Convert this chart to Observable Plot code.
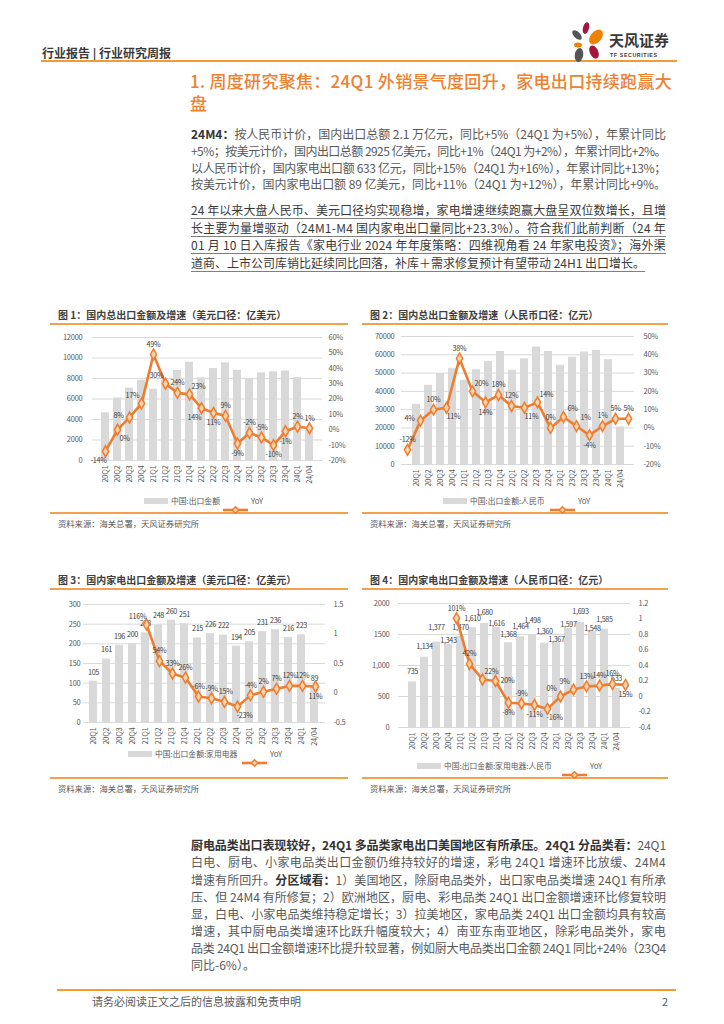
<!DOCTYPE html>
<html><head><meta charset="utf-8">
<script src="https://cdn.jsdelivr.net/npm/d3@7"></script>
<script src="https://cdn.jsdelivr.net/npm/@observablehq/plot@0.6"></script>
<style>
body{margin:0;background:#fff;width:724px;height:1024px;position:relative;overflow:hidden;font-family:"Noto Sans CJK SC","Noto Sans",sans-serif;color:#595959;}
.a{position:absolute;white-space:nowrap;}
.tl{position:absolute;white-space:nowrap;display:inline-block;font-size:12px;line-height:17px;}
.p1{color:#595959;}
.p2{color:#3a3a3a;text-decoration:underline;text-decoration-color:#7f7f7f;text-underline-offset:3px;text-decoration-thickness:1px;}
.p3{color:#595959;}
b{color:#333;font-weight:700;}
.rule{position:absolute;height:2px;background:#F5A04E;}
.ctitle{position:absolute;font-size:10px;font-weight:700;color:#404040;white-space:nowrap;}
.src{position:absolute;font-size:8.3px;color:#595959;white-space:nowrap;}
.leg{position:absolute;font-size:7.8px;color:#595959;white-space:nowrap;line-height:10px;}
.chart{position:absolute;}
.chart svg{position:absolute;left:0;top:0;}
</style></head>
<body>
<div id="root"></div>
<script>
// ---------- DATA ----------
const quarters = ["20Q1","20Q2","20Q3","20Q4","21Q1","21Q2","21Q3","21Q4","22Q1","22Q2","22Q3","22Q4","23Q1","23Q2","23Q3","23Q4","24Q1","24/04"];

// 图1 国内总出口（亿美元）
const totalUsd = [4650,6100,7060,7830,6950,7800,8780,9590,8060,8970,9530,8800,7900,8550,8650,8740,8090,2925];
const totalUsdYoy = [-14,0,8,17,49,30,24,23,14,11,9,-9,-2,-5,-10,-1,2,1];
const leftTicks1 = [0,2000,4000,6000,8000,10000,12000];
const leftLabels1 = ["0","2000","4000","6000","8000","10000","12000"];
const rightTicks1 = [-20,-10,0,10,20,30,40,50,60];
const rightLabels1 = ["-20%","-10%","0%","10%","20%","30%","40%","50%","60%"];

// 图2 国内总出口（亿元）
const totalCny = [32900,43300,49600,52400,46000,51800,56400,61800,51500,57800,64200,61800,54300,58700,61500,62400,57300,20500];
const totalCnyYoy = [-12,4,10,11,38,20,14,18,12,11,14,0,6,1,-4,1,5,5];
const leftTicks2 = [0,10000,20000,30000,40000,50000,60000,70000];
const leftLabels2 = ["0","10000","20000","30000","40000","50000","60000","70000"];
const rightTicks2 = [-20,-10,0,10,20,30,40,50];
const rightLabels2 = ["-20%","-10%","0%","10%","20%","30%","40%","50%"];

// 图3 国内家电出口（亿美元）
const appUsd = [105,161,196,200,228,248,260,251,215,226,222,194,205,231,236,216,223,89];
const appUsdYoy = [null,null,null,null,1.16,0.54,0.33,0.26,-0.06,-0.09,-0.15,-0.23,-0.04,0.02,0.07,0.12,0.12,0.11];
const leftTicks3 = [0,50,100,150,200,250,300];
const leftLabels3 = ["0","50","100","150","200","250","300"];
const rightTicks3 = [-0.5,0,0.5,1,1.5];
const rightLabels3 = ["-0.5","0","0.5","1","1.5"];

// 图4 国内家电出口（亿元）
const appCny = [735,1134,1377,1343,1470,1610,1680,1616,1368,1464,1498,1360,1367,1597,1693,1548,1585,633];
const appCnyYoy = [null,null,null,null,1.01,0.42,0.22,0.20,-0.08,-0.09,-0.11,-0.16,0.00,0.09,0.13,0.14,0.16,0.15];
const leftTicks4 = [0,500,1000,1500,2000];
const leftLabels4 = ["0","500","1,000","1500","2000"];
const rightTicks4 = [-0.4,-0.2,0,0.2,0.4,0.6,0.8,1,1.2];
const rightLabels4 = ["-0.4","-0.2","0","0.2","0.4","0.6","0.8","1","1.2"];

// label placement (styling, not data)
const pos1 = ["bl","br","l","al","a","al","a","ar","bl","b","a","b","a","a","b","b","a","a"];
const pos2 = ["a","l","a","br","a","ar","b","a","a","br","ar","a","ar","ar","b","a","a","a"];
const pos3 = [null,null,null,null,"al","a","a","a","a","a","a","br","a","a","a","a","a","b"];
const pos4 = [null,null,null,null,"a","a","ar","r","b","a","b","br","al","al","a","a","a","b"];
const barDy3 = quarters.map(()=>-9);
const barDy4 = [-10,-11,-14,-4,-9,-9,-11,-4,-8,-10,-14,-11,-3,-4,-11,-3,-10,-10];

// ---------- STYLE ----------
const ORANGE = "#ED7D31";
const FONT = "'Noto Sans CJK SC','Noto Sans',sans-serif";
const OFF = {a:[0,-10],b:[0,10],l:[-11,-2],r:[12,0],al:[-9,-8],ar:[9,-8],bl:[-7,9],br:[7,9]};

const root = document.getElementById("root");
function el(tag, cls, style, html){const e=document.createElement(tag); if(cls) e.className=cls; Object.assign(e.style, style||{}); if(html!=null) e.innerHTML=html; root.appendChild(e); return e;}

function makeChart(c){
  const rows = quarters.map((q,i)=>({q, v:c.bars[i], r:c.yoy[i], pos:c.pos[i], bdy:c.barDy ? c.barDy[i] : 0}));
  const yoyRows = rows.filter(d=>d.r!=null);
  const common = {width:c.w, height:c.h, marginLeft:c.mL, marginRight:c.mR, marginTop:c.mT, marginBottom:c.mB,
    style:{background:"transparent", overflow:"visible", fontFamily:FONT, fontSize:"7.5px", color:"#595959", letterSpacing:"-0.25px"}};
  const xs = {domain:quarters, padding:0.36};
  const lf = d => c.yLabels[c.yTicks.indexOf(d)];
  const rf = d => c.rLabels[c.rTicks.indexOf(d)];
  const am = [
    Plot.gridY(c.yTicks,{stroke:"#D9D9D9", strokeOpacity:1}),
    Plot.barY(rows,{x:"q", y:"v", fill:"#D9D9D9"}),
    Plot.axisY(c.yTicks,{tickSize:0, tickPadding:c.padL, tickFormat:lf, label:null}),
    Plot.axisX({tickRotate:-90, tickSize:0, tickPadding:5, label:null})
  ];
  if(c.barFmt){
    for(const dy of [...new Set(rows.map(d=>d.bdy))]){
      am.push(Plot.text(rows.filter(d=>d.bdy===dy),{x:"q", y:"v", text:d=>c.barFmt(d.v), dy, fill:"#404040", fontSize:7.2}));
    }
  }
  const A = Plot.plot({...common, x:{...xs, label:null}, y:{domain:c.yDomain, label:null}, marks:am});
  const bm = [
    Plot.axisY(c.rTicks,{anchor:"right", tickSize:0, tickPadding:c.padR, tickFormat:rf, label:null}),
    Plot.line(yoyRows,{x:"q", y:"r", stroke:ORANGE, strokeWidth:2.6}),
    Plot.dot(yoyRows,{x:"q", y:"r", symbol:"diamond", r:3.3, fill:"#FAD3A8", stroke:ORANGE, strokeWidth:1.5})
  ];
  for(const [k,[dx,dy]] of Object.entries(OFF)){
    bm.push(Plot.text(yoyRows.filter(d=>d.pos===k),{x:"q", y:"r", text:d=>c.yoyFmt(d.r), dx, dy, fill:"#404040", fontSize:7.2}));
  }
  const B = Plot.plot({...common, x:{...xs, axis:null}, y:{domain:c.rDomain, label:null}, marks:bm});
  const box = el("div","chart",{left:c.left+"px", top:c.top+"px", width:c.w+"px", height:c.h+"px"});
  box.appendChild(A); box.appendChild(B);
}

function legend(x, y, label, lx){
  el("div","",{position:"absolute", left:x+"px", top:(y-3)+"px", width:"24px", height:"6px", background:"#D9D9D9"});
  el("div","leg",{left:(x+27)+"px", top:(y-5)+"px"}, label);
  el("div","",{position:"absolute", left:lx+"px", top:(y-5)+"px", width:"25px", height:"10px"},
    '<svg width="25" height="10"><line x1="0" y1="5" x2="25" y2="5" stroke="'+ORANGE+'" stroke-width="2.6"/><path d="M12.5 1.7 L15.8 5 L12.5 8.3 L9.2 5 Z" fill="#FAD3A8" stroke="'+ORANGE+'" stroke-width="1.5"/></svg>');
  el("div","leg",{left:(lx+28)+"px", top:(y-5)+"px"}, "YoY");
}

// ---------- PAGE ----------
// header
el("div","a",{left:"42px", top:"44px", fontSize:"12px", fontWeight:"700", color:"#3a3a3a"}, "行业报告 | 行业研究周报");
el("div","rule",{left:"41px", top:"60px", width:"636px", background:"#F39A35"});
el("div","a",{left:"568px", top:"18px"},
 '<svg width="112" height="46" viewBox="0 0 112 46">'+
 '<ellipse cx="18" cy="10" rx="3" ry="6" fill="#A3163C" transform="rotate(15 18 10)"/>'+
 '<ellipse cx="9" cy="17" rx="3.2" ry="6" fill="#555" transform="rotate(-45 9 17)"/>'+
 '<ellipse cx="28" cy="19" rx="5.5" ry="8.5" fill="#EF8200" transform="rotate(40 28 19)"/>'+
 '<ellipse cx="10" cy="27" rx="4" ry="2.5" fill="#EF8200"/>'+
 '<ellipse cx="26" cy="34" rx="4.2" ry="7" fill="#A3163C" transform="rotate(-25 26 34)"/>'+
 '<ellipse cx="11" cy="37" rx="4.2" ry="7" fill="#555" transform="rotate(10 11 37)"/>'+
 '<text x="41" y="28" font-size="15" font-weight="700" fill="#3a3a3a" font-family="Noto Sans CJK SC">天风证券</text>'+
 '<text x="42" y="39" font-size="5.3" font-weight="700" fill="#3a3a3a" font-family="Liberation Sans" letter-spacing="0.6">TF SECURITIES</text>'+
 '</svg>');

// section title
const T1 = el("div","a",{left:"190px", top:"71px", fontSize:"17px", color:"#EE8130", fontWeight:"500", lineHeight:"20px"}, "1. 周度研究聚焦：24Q1 外销景气度回升，家电出口持续跑赢大");
T1.dataset.fit = "482";
el("div","a",{left:"190px", top:"93px", fontSize:"17px", color:"#EE8130", fontWeight:"500", lineHeight:"20px"}, "盘");

function para(cls, lines, centers, fitLast){
  lines.forEach((h,i)=>{
    const e = el("div","tl "+cls,{left:"191px", top:(centers[i]-8.5)+"px"}, h);
    if(i<lines.length-1 || fitLast) e.dataset.fit = "475";
  });
}
para("p1",[
 "<b>24M4：</b>按人民币计价，国内出口总额 2.1 万亿元，同比+5%（24Q1 为+5%），年累计同比",
 "+5%；按美元计价，国内出口总额 2925 亿美元，同比+1%（24Q1 为+2%），年累计同比+2%。",
 "以人民币计价，国内家电出口额 633 亿元，同比+15%（24Q1 为+16%），年累计同比+13%；",
 "按美元计价，国内家电出口额 89 亿美元，同比+11%（24Q1 为+12%），年累计同比+9%。"
],[133,150,167,183.5],true);
para("p2",[
 "24 年以来大盘人民币、美元口径均实现稳增，家电增速继续跑赢大盘呈双位数增长，且增",
 "长主要为量增驱动（24M1-M4 国内家电出口量同比+23.3%）。符合我们此前判断（24 年",
 "01 月 10 日入库报告《家电行业 2024 年年度策略：四维视角看 24 年家电投资》；海外渠",
 "道商、上市公司库销比延续同比回落，补库＋需求修复预计有望带动 24H1 出口增长。"
],[209.5,227,244.5,262],false);
para("p3",[
 "<b>厨电品类出口表现较好，24Q1 多品类家电出口美国地区有所承压。24Q1 分品类看：</b>24Q1",
 "白电、厨电、小家电品类出口金额仍维持较好的增速，彩电 24Q1 增速环比放缓、24M4",
 "增速有所回升。<b>分区域看：</b>1）美国地区，除厨电品类外，出口家电品类增速 24Q1 有所承",
 "压、但 24M4 有所修复；2）欧洲地区，厨电、彩电品类 24Q1 出口金额增速环比修复较明",
 "显，白电、小家电品类维持稳定增长；3）拉美地区，家电品类 24Q1 出口金额均具有较高",
 "增速，其中厨电品类增速环比跃升幅度较大；4）南亚东南亚地区，除彩电品类外，家电",
 "品类 24Q1 出口金额增速环比提升较显著，例如厨大电品类出口金额 24Q1 同比+24%（23Q4",
 "同比-6%）。"
],[844,861.7,879,896.7,913.5,930,947,964],false);

// chart panels
const panels = [
 {x:50, w:298, ty:314, by:513, title:"图 1：国内总出口金额及增速（美元口径：亿美元）"},
 {x:362, w:306, ty:314, by:513, title:"图 2：国内总出口金额及增速（人民币口径：亿元）"},
 {x:50, w:298, ty:579, by:778, title:"图 3：国内家电出口金额及增速（美元口径：亿美元）"},
 {x:362, w:306, ty:579, by:778, title:"图 4：国内家电出口金额及增速（人民币口径：亿元）"}
];
panels.forEach(p=>{
  el("div","ctitle",{left:(p.x+8)+"px", top:(p.ty-7)+"px"}, p.title);
  el("div","rule",{left:p.x+"px", top:(p.ty+9)+"px", width:p.w+"px", height:"1.5px"});
  el("div","rule",{left:p.x+"px", top:(p.by-1)+"px", width:p.w+"px", height:"1.5px"});
  el("div","src",{left:(p.x+8)+"px", top:(p.by+4)+"px"}, "资料来源：海关总署，天风证券研究所");
});

const pctFmt = d => d + "%";
const decFmt = d => Math.round(d*100) + "%";
makeChart({left:50, top:330, w:300, h:160, mL:42, mR:28, mT:7, mB:30, padL:10, padR:6,
  bars:totalUsd, yoy:totalUsdYoy, pos:pos1, yDomain:[0,12000], yTicks:leftTicks1, yLabels:leftLabels1,
  rDomain:[-20,60], rTicks:rightTicks1, rLabels:rightLabels1, yoyFmt:pctFmt});
makeChart({left:362, top:330, w:310, h:160, mL:39, mR:38, mT:6, mB:26, padL:7, padR:9,
  bars:totalCny, yoy:totalCnyYoy, pos:pos2, yDomain:[0,70000], yTicks:leftTicks2, yLabels:leftLabels2,
  rDomain:[-20,50], rTicks:rightTicks2, rLabels:rightLabels2, yoyFmt:pctFmt});
makeChart({left:50, top:595, w:300, h:155, mL:33, mR:25, mT:9, mB:28, padL:3, padR:8,
  bars:appUsd, yoy:appUsdYoy, pos:pos3, yDomain:[0,300], yTicks:leftTicks3, yLabels:leftLabels3,
  rDomain:[-0.5,1.5], rTicks:rightTicks3, rLabels:rightLabels3, yoyFmt:decFmt, barFmt:d=>String(d), barDy:barDy3});
makeChart({left:362, top:595, w:310, h:160, mL:36, mR:42, mT:8, mB:28, padL:9, padR:8,
  bars:appCny, yoy:appCnyYoy, pos:pos4, yDomain:[0,2000], yTicks:leftTicks4, yLabels:leftLabels4,
  rDomain:[-0.4,1.2], rTicks:rightTicks4, rLabels:rightLabels4, yoyFmt:decFmt, barFmt:d=>d3.format(",")(d), barDy:barDy4});

legend(144, 501, "中国:出口金额", 223);
legend(443, 501, "中国:出口金额:人民币", 550);
legend(128, 754, "中国:出口金额:家用电器", 242);
legend(417, 766, "中国:出口金额:家用电器:人民币", 562);

// footer
el("div","rule",{left:"57px", top:"989px", width:"619px", background:"#F39A35"});
el("div","a",{left:"92px", top:"993px", fontSize:"11px", color:"#595959"}, "请务必阅读正文之后的信息披露和免责申明");
el("div","a",{left:"662px", top:"993px", fontSize:"11px", color:"#595959"}, "2");

// fit justified lines
document.querySelectorAll("[data-fit]").forEach(e=>{
  const target = +e.dataset.fit;
  e.style.letterSpacing = "0px";
  const w = e.getBoundingClientRect().width;
  const n = [...e.textContent].length;
  e.style.letterSpacing = ((target - w)/n) + "px";
});
</script>
</body></html>
